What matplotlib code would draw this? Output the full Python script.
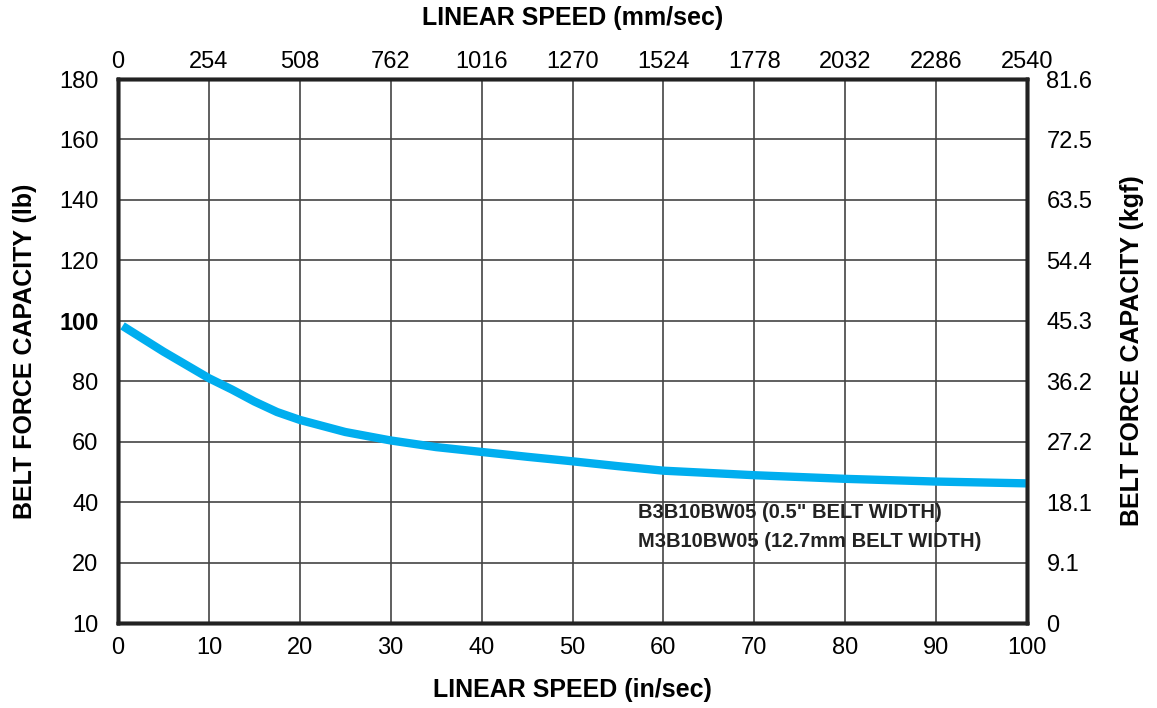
import matplotlib
matplotlib.use('Agg')
import matplotlib.pyplot as plt

# data
speed_in = [0.5, 5, 10, 12.5, 15, 17.5, 20, 25, 30, 35, 40, 45, 50, 55, 60, 70, 80, 90, 100]
force_lb = [98.3, 89.8, 81.0, 77.3, 73.3, 69.8, 67.2, 63.2, 60.4, 58.2, 56.6, 55.0, 53.5, 51.9, 50.4, 48.9, 47.7, 46.8, 46.2]

x_ticks = [0, 10, 20, 30, 40, 50, 60, 70, 80, 90, 100]
top_labels = ['0', '254', '508', '762', '1016', '1270', '1524', '1778', '2032', '2286', '2540']
y_ticks = [0, 20, 40, 60, 80, 100, 120, 140, 160, 180]
left_labels = ['10', '20', '40', '60', '80', '100', '120', '140', '160', '180']
right_labels = ['0', '9.1', '18.1', '27.2', '36.2', '45.3', '54.4', '63.5', '72.5', '81.6']

plt.rcParams['font.family'] = ['Liberation Sans', 'DejaVu Sans']

fig = plt.figure(figsize=(11.57, 7.08), dpi=100)
ax = fig.add_axes([118/1157, 1 - 623/708, (1027-118)/1157, (623-79)/708])

ax.plot(speed_in, force_lb, color='#00aeef', lw=6, solid_capstyle='butt', zorder=3)

ax.set_xlim(0, 100)
ax.set_ylim(0, 180)
ax.set_xticks(x_ticks)
ax.set_xticklabels([str(v) for v in x_ticks])
ax.set_yticks(y_ticks)
ax.set_yticklabels(left_labels)
ax.tick_params(axis='x', length=0, labelsize=17, pad=10)
ax.tick_params(axis='y', length=0, labelsize=17, pad=14)
for lab in ax.get_yticklabels():
    if lab.get_text() == '100':
        lab.set_fontweight('bold')
ax.grid(True, color='#444444', lw=1.2)
for s in ax.spines.values():
    s.set_linewidth(2.5)
    s.set_color('#222222')

ax.set_xlabel('LINEAR SPEED (in/sec)', fontsize=18, fontweight='bold', labelpad=14)
ax.set_ylabel('BELT FORCE CAPACITY (lb)', fontsize=18, fontweight='bold', labelpad=16)

top = ax.twiny()
top.set_xlim(ax.get_xlim())
top.set_xticks(x_ticks)
top.set_xticklabels(top_labels)
top.tick_params(length=0, labelsize=17, pad=4)
top.set_xlabel('LINEAR SPEED (mm/sec)', fontsize=18, fontweight='bold', labelpad=19)

right = ax.twinx()
right.set_ylim(ax.get_ylim())
right.set_yticks(y_ticks)
right.set_yticklabels(right_labels)
right.tick_params(length=0, labelsize=17, pad=14)
right.set_ylabel('BELT FORCE CAPACITY (kgf)', fontsize=18, fontweight='bold', labelpad=20)
for a in (top, right):
    for s in a.spines.values():
        s.set_linewidth(2.5)
        s.set_color('#222222')

ax.text(57.2, 36.4, 'B3B10BW05 (0.5" BELT WIDTH)', fontsize=14.5, fontweight='bold',
        va='center', ha='left', color='#222222')
ax.text(57.2, 27.0, 'M3B10BW05 (12.7mm BELT WIDTH)', fontsize=14.5, fontweight='bold',
        va='center', ha='left', color='#222222')

fig.savefig('out.png', dpi=100, facecolor='white')
